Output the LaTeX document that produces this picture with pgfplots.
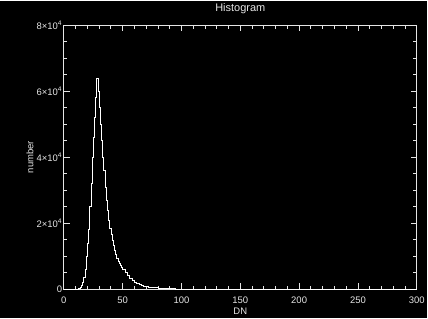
\documentclass[border=0pt]{standalone}
\usepackage{pgfplots}
\pgfplotsset{compat=1.18}
\usepackage{fontspec}
\setmainfont{Liberation Sans}
\pgfplotstableread{
dn count
0 0
10 0
11 100
12 200
13 400
14 700
15 1200
16 2000
17 3500
18 6000
19 10000
20 14000
21 18000
22 25000
23 32000
24 40000
25 46000
26 52000
27 58000
28 64000
29 60000
30 55000
31 50000
32 45000
33 40000
34 36000
35 31000
36 27000
37 24000
38 21000
39 18500
40 16500
41 14800
42 13200
43 11800
44 10500
45 9500
46 8600
47 7800
48 7100
49 6600
50 6100
52 5000
54 4100
56 3400
58 2800
60 2200
62 1800
64 1500
66 1200
68 950
70 750
72 600
75 450
80 300
85 200
90 130
95 80
100 50
105 20
110 0
300 0
}\histdata
\begin{document}
\begin{tikzpicture}
\fill[black] (0,0) rectangle (428pt,318pt);
\begin{axis}[
  at={(64pt,29pt)}, anchor=south west,
  scale only axis, width=354pt, height=265pt,
  xmin=0, xmax=300, ymin=0, ymax=80000,
  axis line style={white!90!black, line width=0.8pt},
  every tick/.style={white!90!black, line width=0.8pt},
  tick align=inside,
  major tick length=6pt, minor tick length=3.5pt,
  xtick={0,50,...,300}, minor x tick num=4,
  ytick={0,20000,40000,60000,80000}, minor y tick num=3,
  yticklabels={0, 2×10\textsuperscript{4}, 4×10\textsuperscript{4}, 6×10\textsuperscript{4}, 8×10\textsuperscript{4}},
  scaled y ticks=false,
  /pgf/number format/assume math mode=true,
  ticklabel style={font=\fontsize{9.5}{10}\selectfont, text=white!90!black},
  xticklabel style={anchor=center, yshift=-11.5pt},
  yticklabel style={inner sep=1.5pt},
  title={Histogram},
  title style={font=\fontsize{11}{12}\selectfont, text=white!90!black, at={(axis description cs:0.5,1)}, anchor=south, yshift=2pt},
  xlabel={DN},
  xlabel style={font=\fontsize{9.5}{10}\selectfont, text=white!90!black, at={(axis description cs:0.5,-0.085)}, anchor=center},
  ylabel={number},
  ylabel style={font=\fontsize{9.5}{10}\selectfont, text=white!90!black, at={(axis description cs:-0.096,0.5)}, anchor=center},
]
\addplot[const plot, white, line width=0.7pt] table[x=dn, y=count] {\histdata};
\end{axis}
\end{tikzpicture}
\end{document}
